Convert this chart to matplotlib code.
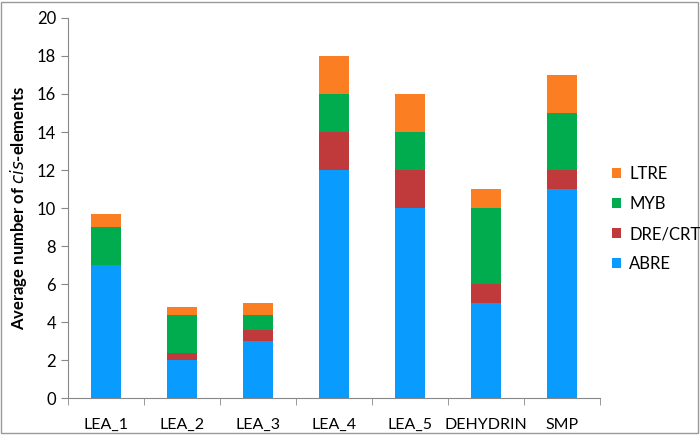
import numpy as np
import matplotlib
matplotlib.use("Agg")
import matplotlib.pyplot as plt

plt.rcParams['font.family'] = ['Lato', 'DejaVu Sans']

categories = ['LEA_1', 'LEA_2', 'LEA_3', 'LEA_4', 'LEA_5', 'DEHYDRIN', 'SMP']
abre = [7, 2, 3, 12, 10, 5, 11]
dre_crt = [0, 0.4, 0.6, 2, 2, 1, 1]
myb = [2, 2, 0.8, 2, 2, 4, 3]
ltre = [0.7, 0.4, 0.6, 2, 2, 1, 2]

series = [('ABRE', abre, '#0a9bff'),
          ('DRE/CRT', dre_crt, '#c0393b'),
          ('MYB', myb, '#00ac4e'),
          ('LTRE', ltre, '#fb7e22')]

fig = plt.figure(figsize=(7, 4.38), dpi=100)
ax = fig.add_axes([0.097, 0.091, 0.76, 0.868])

x = np.arange(len(categories))
bottom = np.zeros(len(categories))
handles = []
for name, vals, col in series:
    b = ax.bar(x, vals, 0.39, bottom=bottom, color=col, label=name, zorder=2)
    handles.append(b)
    bottom += np.array(vals)

ax.set_xlim(-0.5, len(categories) - 0.5)
ax.set_ylim(0, 20)
ax.set_yticks(range(0, 21, 2))
ax.set_xticks(x)
ax.set_xticklabels(categories)
ax.set_xticks(np.arange(-0.5, len(categories), 1), minor=True)
ax.tick_params(axis='x', which='major', length=0, labelsize=11.5, pad=14)
ax.tick_params(axis='x', which='minor', length=5, color='#888888')
ax.tick_params(axis='y', length=5, color='#888888', labelsize=12)
for s in ['top', 'right']:
    ax.spines[s].set_visible(False)
for s in ['left', 'bottom']:
    ax.spines[s].set_color('#888888')

ax.set_ylabel('Average number of $\\mathbf{\\it{cis}}$-elements', fontsize=12,
              fontweight='bold', labelpad=6)

fig.legend(handles[::-1], [s[0] for s in series][::-1], loc='center left',
           bbox_to_anchor=(0.874, 0.5), frameon=False, fontsize=12,
           borderaxespad=0, borderpad=0,
           handlelength=0.55, handleheight=0.55, labelspacing=0.85, handletextpad=0.5)

fig.patches.append(plt.Rectangle((0.002, 0.012), 0.995, 0.984, transform=fig.transFigure,
                                 fill=False, edgecolor='#999999', lw=1))

fig.savefig('out.png', dpi=100)
